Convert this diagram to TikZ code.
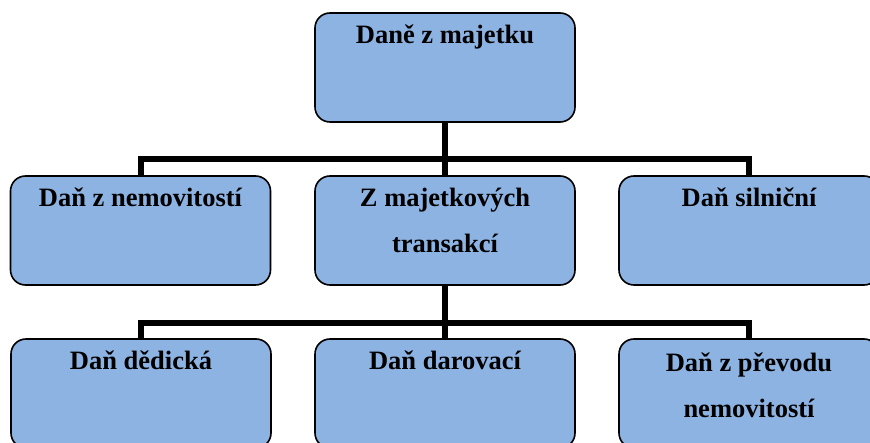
\documentclass[tikz,border=0pt]{standalone}
\usepackage{fontspec}
\setmainfont{Liberation Serif}
\definecolor{boxblue}{HTML}{8DB3E2}
\begin{document}
\begin{tikzpicture}[x=1pt,y=-1pt,
  taxbox/.style={draw=black, line width=1.6pt, fill=boxblue, rounded corners=15pt,
    minimum width=260pt, minimum height=109pt, inner sep=0pt},
  boxtext/.style={anchor=north, align=center, inner sep=0pt,
    font=\bfseries\fontsize{26.5}{46}\selectfont},
  link/.style={line width=6pt}]
\useasboundingbox (0,0) rectangle (870,443);
\clip (0,0) rectangle (870,443);

% boxes
\node[taxbox] (b0) at (445,67.5) {};
\node[taxbox] (b1) at (140.5,230.5) {};
\node[taxbox] (b2) at (445,230.5) {};
\node[taxbox] (b3) at (749,230.5) {};
\node[taxbox] (b4) at (141,393.5) {};
\node[taxbox] (b5) at (445,393.5) {};
\node[taxbox] (b6) at (749,393.5) {};

% connectors
\draw[link] (b0.south) -- ++(0,36) -| (b1.north);
\draw[link] (b0.south) -- ++(0,36) -| (b3.north);
\draw[link] (b0.south) -- (b2.north);
\draw[link] (b2.south) -- ++(0,37) -| (b4.north);
\draw[link] (b2.south) -- ++(0,37) -| (b6.north);
\draw[link] (b2.south) -- (b5.north);

% labels
\node[boxtext] (t0) at ([yshift=-4pt]b0.north) {\rule{0pt}{27pt}Daně z majetku};
\node[boxtext] (t1) at ([yshift=-4pt]b1.north) {\rule{0pt}{27pt}Daň z nemovitostí};
\node[boxtext] (t2) at ([yshift=-4pt]b2.north) {\rule{0pt}{27pt}Z majetkových\\transakcí};
\node[boxtext] (t3) at ([yshift=-4pt]b3.north) {\rule{0pt}{27pt}Daň silniční};
\node[boxtext] (t4) at ([yshift=-4pt]b4.north) {\rule{0pt}{27pt}Daň dědická};
\node[boxtext] (t5) at ([yshift=-4pt]b5.north) {\rule{0pt}{27pt}Daň darovací};
\node[boxtext] (t6) at ([yshift=-6pt]b6.north) {\rule{0pt}{27pt}Daň z převodu\\nemovitostí};
\end{tikzpicture}
\end{document}
